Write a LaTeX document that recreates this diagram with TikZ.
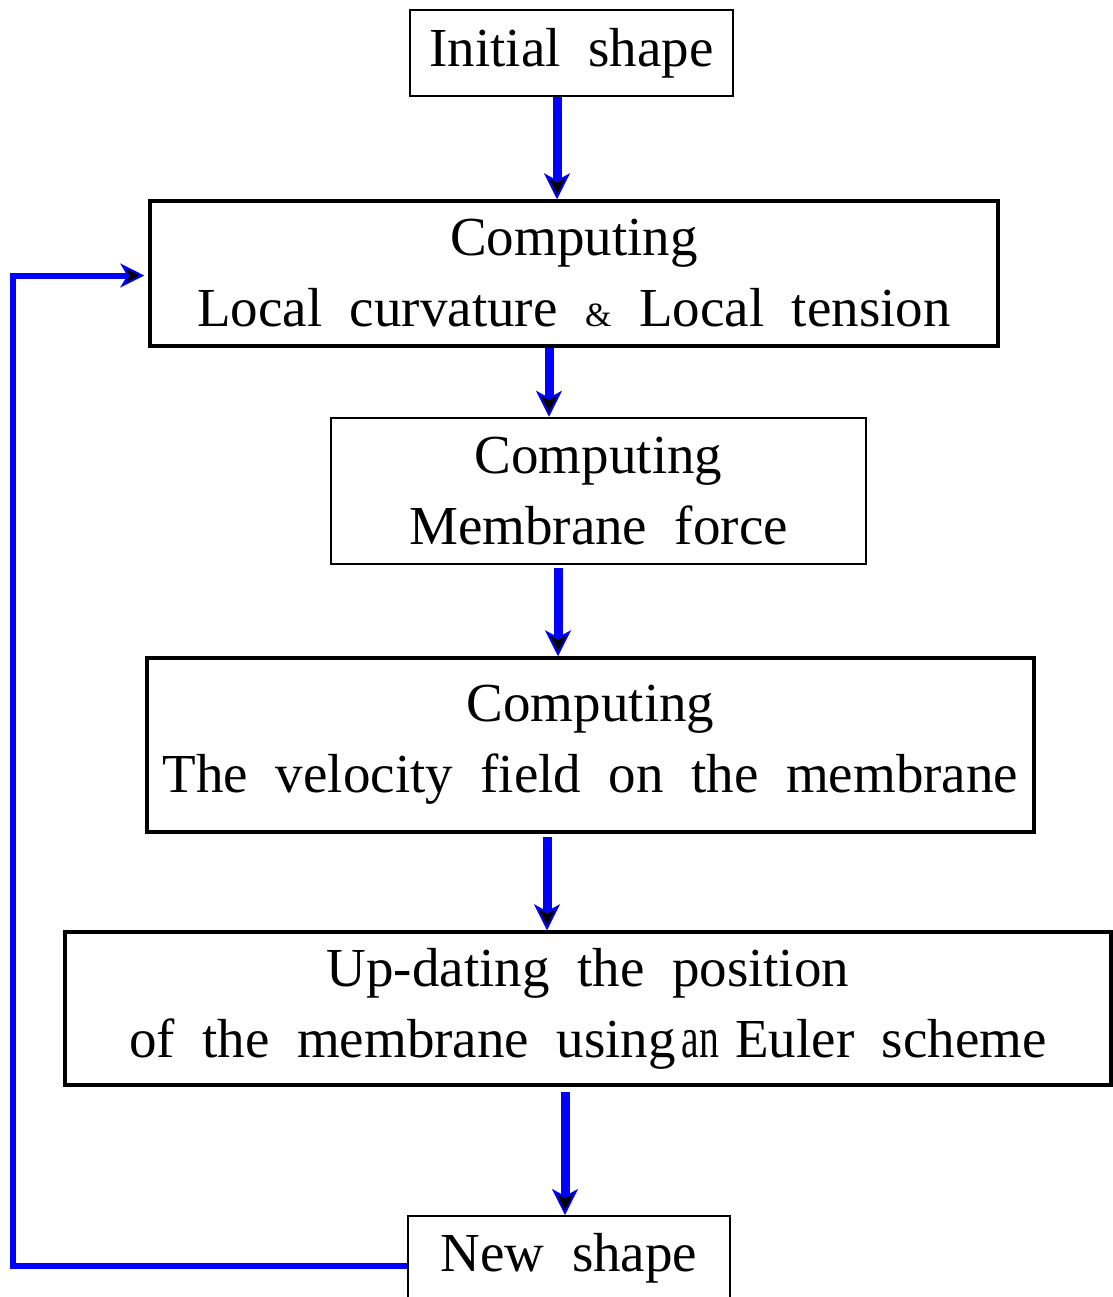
\documentclass[tikz,border=0pt]{standalone}
\usepackage{fontspec}
\setmainfont{Liberation Serif}[WordSpace=2]
\usepackage{graphicx}
\usetikzlibrary{arrows.meta}

\begin{document}
\begin{tikzpicture}[x=0.5pt,y={(0,-0.5pt)},
	flow/.style={blue,line width=4.5pt,-{Stealth[length=13pt,width=13pt,inset=3.5pt,fill=black,line width=1pt]}},
	back/.style={blue,line width=3pt,-{Stealth[length=12pt,width=12pt,inset=3.5pt,fill=black,line width=1pt]}}]
	
	\clip (0,0) rectangle (1113,1297);
	\useasboundingbox (0,0) rectangle (1113,1297);
	
	\begin{scope}[every node/.style={rectangle,draw,inner sep=0pt,align=center,font=\fontsize{27.5}{35.5}\selectfont}]
	\node[line width=1pt,minimum width=161.5pt,minimum height=43pt] (init) at (571.5,53) {Initial shape};
	\node[line width=1.75pt,minimum width=424pt,minimum height=72.5pt] (curv) at (574,273.5) {Computing\\Local curvature {\fontsize{17}{17}\selectfont\&} Local tension};
	\node[line width=1.25pt,minimum width=267.5pt,minimum height=73pt] (force) at (598.5,491) {Computing\\Membrane force};
	\node[line width=1.75pt,minimum width=443.5pt,minimum height=87pt] (velo) at (590.5,745) {Computing\\The velocity field on the membrane};
	\node[line width=1.75pt,minimum width=523pt,minimum height=76.5pt] (update) at (588,1008.5) {Up-dating the position\\of the membrane using\hspace{0.1em}\scalebox{0.72}[1.05]{an}\hspace{0.3em}Euler scheme};
	\node[line width=1pt,minimum width=161pt,minimum height=42pt] (new) at (569,1258) {New shape};
	\end{scope}
	
	\begin{scope}
	\coordinate (loop) at (13,700);
	\draw[flow] ([xshift=-7.25pt]init.south) -- ([xshift=-7.25pt]init.south |- curv.north);
	\draw[flow] ([xshift=-12.5pt]curv.south) -- ([xshift=-12.5pt]curv.south |- force.north);
	\draw[flow] ([xshift=-20.25pt,yshift=-1.5pt]force.south) -- ([xshift=-20.25pt]force.south |- velo.north);
	\draw[flow] ([xshift=-21.75pt,yshift=-1.5pt]velo.south) -- ([xshift=-21.75pt]velo.south |- update.north);
	\draw[flow] ([xshift=-11.5pt,yshift=-2.5pt]update.south) -- ([xshift=-11.5pt]update.south |- new.north);
	\draw[back,shorten >=2pt] ([yshift=-4pt]new.west) -| (loop) |- ([yshift=-1pt]curv.west);
	\end{scope}
	
\end{tikzpicture}
\end{document}
